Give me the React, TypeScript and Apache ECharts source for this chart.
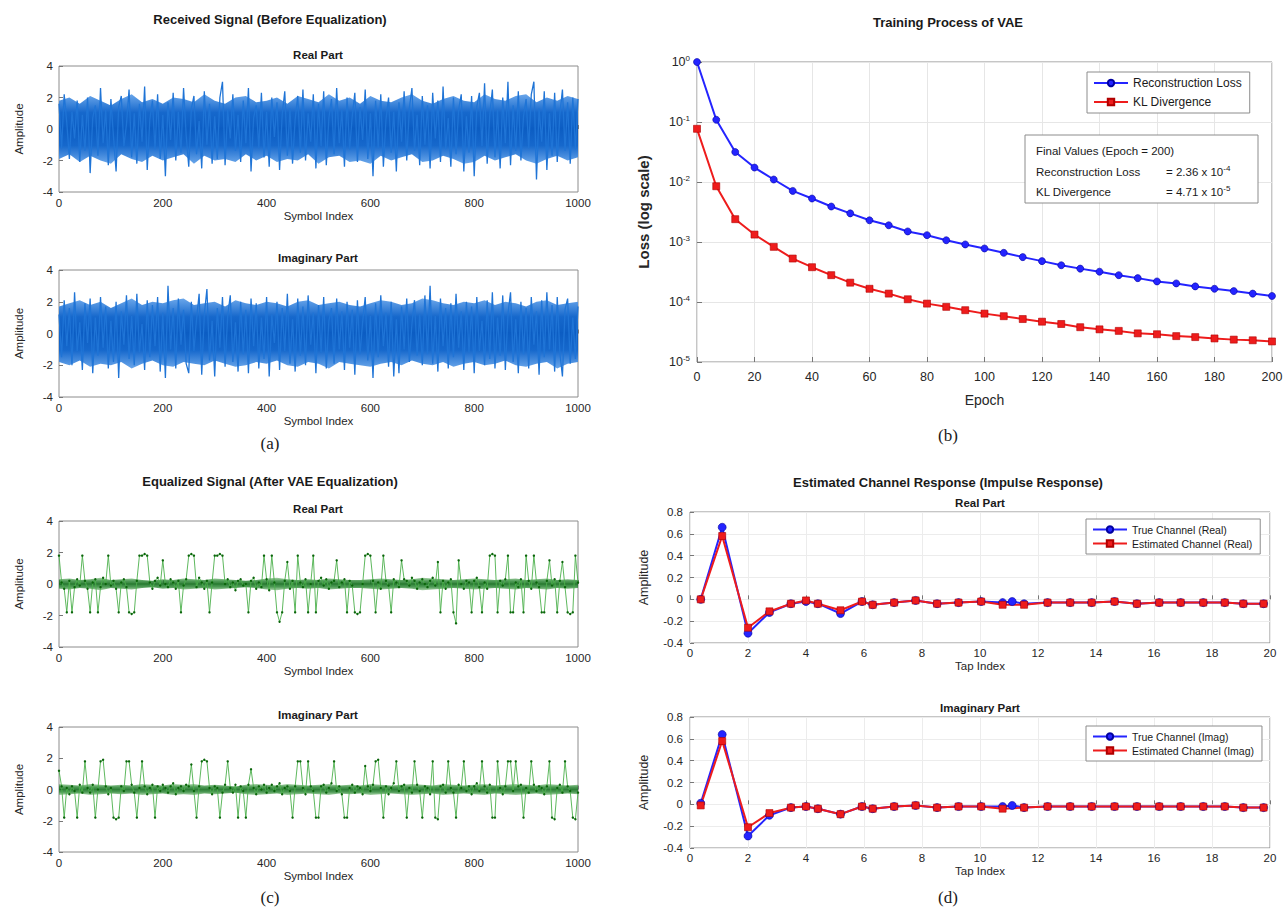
import React, { useEffect, useRef } from "react";
import * as echarts from "echarts";

// ---------- DATA ----------
// received signal, real part (sampled every 5 symbols, 0..1000)
const RX_REAL = [
  1.6, -1.2, 2.2, 0.4, -1.9, 1.1, -0.6, 1.8, -2.1, 0.9,
  -1.4, 2.0, -2.8, 0.7, 1.5, -1.7, 2.6, -0.9, 1.2, -2.3,
  1.9, -0.5, -2.7, 1.4, 2.1, -1.1, 0.3, 2.5, -1.8, 1.0,
  -2.2, 1.6, -0.8, 2.7, -2.6, 0.6, 1.8, -1.3, 2.2, -1.9,
  0.9, -3.0, 1.7, -0.7, 2.3, -2.0, 1.1, -1.5, 2.6, -0.4,
  -2.4, 1.3, 2.1, -1.6, 0.5, -2.5, 2.4, -1.0, 1.6, -2.2,
  0.8, -1.9, 2.0, 3.0, -2.3, 1.2, -0.6, 2.2, -1.4, 0.9,
  -2.1, 1.8, -0.9, 2.6, -2.7, 0.7, 1.5, -1.2, 2.3, -1.8,
  1.1, -2.4, 2.0, -0.5, 1.7, -2.6, 0.9, 2.4, -1.7, 1.3,
  -2.2, 0.6, 2.1, -1.5, 2.5, -2.0, 1.0, -0.8, 2.2, -2.5,
  1.6, -1.1, 2.4, -2.3, 0.7, 1.9, -1.6, 2.6, -0.9, 1.2,
  -2.4, 2.0, -1.3, 0.8, 2.3, -2.1, 1.4, -0.7, 2.5, -1.9,
  1.0, -3.0, 1.8, -1.2, 2.2, -2.4, 0.6, 2.0, -1.5, 1.1,
  -2.7, 1.7, -0.8, 2.4, -2.0, 1.3, 2.6, -1.4, 0.9, -2.3,
  2.1, -1.0, 1.5, -2.5, 2.3, -0.6, 1.8, -2.1, 2.7, -1.3,
  0.7, -2.4, 2.0, -1.6, 1.2, 2.2, -2.7, 0.8, -1.5, 2.1,
  -3.0, 1.4, 2.3, -1.1, 2.9, -2.2, 0.9, 2.5, -1.8, 1.2,
  -2.5, 2.0, -0.9, 3.0, -2.3, 1.5, -1.4, 2.4, -2.0, 0.8,
  1.9, -1.2, 2.2, 3.0, -3.2, 1.3, -0.8, 2.4, -2.6, 1.0,
  -1.7, 2.3, -2.1, 0.9, 2.5, -1.4, 1.7, -2.2, 2.0, -1.3,
  1.9,
];
// received signal, imaginary part
const RX_IMAG = [
  1.2, -1.5, 2.1, -0.8, 1.6, -2.0, 2.6, -1.1, 0.7, -2.3,
  1.9, -0.6, 2.2, -2.5, 1.0, -1.4, 2.3, -0.9, 1.7, -2.2,
  0.8, -1.8, 2.0, -2.8, 1.4, -0.7, 2.4, -1.6, 1.1, -2.0,
  2.5, -1.2, 0.6, -2.3, 2.1, -1.5, 1.8, -0.8, 2.3, -2.4,
  1.3, -2.8, 3.0, -1.0, 1.6, -2.2, 2.2, -0.7, 1.5, -1.9,
  -2.5, 2.0, -1.1, 0.9, 2.5, -2.6, 1.2, 2.8, -1.7, 0.8,
  -2.7, 1.6, -0.9, 2.3, -2.1, 1.1, 2.4, -1.8, 0.7, -2.4,
  2.0, -1.3, 1.5, -2.5, 2.2, -0.8, 1.9, -2.2, 1.0, -1.6,
  2.3, -2.7, 1.2, -0.6, 2.0, -2.3, 1.6, -1.1, 2.5, -1.9,
  0.9, -2.4, 2.2, -1.4, 1.7, -2.0, 2.4, -0.7, 1.3, -2.5,
  1.8, -1.2, 2.3, -2.2, 0.8, 1.6, -1.9, 2.2, -1.0, 1.4,
  -2.3, 2.0, -0.9, 1.5, -2.6, 2.1, -1.3, 0.7, 2.3, -1.7,
  1.1, -2.8, 1.9, -1.5, 2.4, -0.8, 1.3, -2.1, 2.0, -2.7,
  0.9, -2.5, 1.7, -1.0, 2.2, -1.8, 0.6, 2.1, -1.4, 1.2,
  -2.0, 2.4, -1.3, 3.0, -1.9, 1.1, -2.4, 2.2, -0.8, 1.6,
  -2.2, 1.9, -1.5, 2.5, -0.9, 1.4, -2.3, 2.0, -1.2, 1.7,
  -2.5, 2.3, -1.1, 0.8, -2.0, 2.1, -1.6, 2.6, -2.2, 1.0,
  -1.4, 2.4, -2.3, 1.2, 2.6, -1.8, 0.9, -2.5, 2.0, -1.3,
  1.6, -2.2, 2.3, -0.7, 1.4, -2.6, 2.1, -1.5, 2.6, -1.0,
  1.8, -2.4, 2.3, -1.2, -2.7, 1.5, 2.2, -1.9, 1.0, -1.6,
  1.7,
];
// dense body of the received signal (upper / lower envelope, every 20 symbols)
const RX_REAL_UP = [
  1.8, 2.0, 1.6, 2.1, 1.8, 1.5, 1.9, 2.2, 1.7, 1.9,
  1.6, 2.0, 1.9, 1.7, 2.2, 1.8, 1.6, 2.0, 2.1, 1.7,
  1.8, 2.0, 1.6, 2.1, 1.9, 1.7, 2.2, 1.8, 2.0, 1.6,
  2.1, 1.8, 1.7, 2.0, 2.2, 1.8, 1.6, 1.9, 2.1, 1.8,
  1.7, 2.2, 1.9, 1.8, 2.1, 2.2, 1.7, 2.0, 1.8, 2.1, 1.9,
];
const RX_REAL_LO = [
  -1.9, -1.6, -2.1, -1.7, -2.0, -2.2, -1.6, -1.9, -2.1, -1.7,
  -2.0, -1.8, -1.6, -2.2, -1.7, -2.0, -1.9, -2.1, -1.6, -2.0,
  -1.7, -2.1, -1.9, -2.0, -1.6, -2.2, -1.8, -1.7, -2.1, -2.0,
  -2.2, -1.7, -2.0, -1.8, -1.6, -2.1, -2.0, -1.7, -1.9, -2.2,
  -2.1, -1.7, -2.0, -1.8, -1.6, -2.0, -2.2, -1.9, -1.7, -2.0, -1.8,
];
const RX_IMAG_UP = [
  1.7, 1.9, 2.1, 1.8, 2.0, 1.6, 1.9, 2.2, 1.8, 2.0,
  1.9, 2.1, 2.2, 1.8, 1.9, 2.0, 1.7, 2.1, 1.9, 1.8,
  2.0, 1.9, 1.7, 2.0, 2.1, 1.8, 1.9, 2.0, 1.8, 1.7,
  1.9, 2.1, 2.0, 1.8, 1.9, 2.2, 2.1, 1.9, 1.8, 2.0,
  1.9, 2.1, 1.8, 2.0, 1.9, 1.7, 2.0, 2.1, 1.8, 1.9, 2.0,
];
const RX_IMAG_LO = [
  -1.8, -2.0, -1.7, -2.1, -1.9, -2.0, -1.8, -2.2, -1.9, -1.7,
  -2.0, -2.1, -1.8, -1.9, -2.0, -1.7, -1.9, -2.1, -2.0, -1.8,
  -1.9, -1.7, -2.0, -2.1, -1.8, -1.9, -2.2, -1.8, -1.9, -2.0,
  -2.1, -1.9, -1.8, -2.0, -1.7, -1.9, -2.0, -1.8, -2.1, -1.9,
  -1.8, -2.0, -1.9, -1.7, -2.0, -2.1, -1.9, -1.8, -2.2, -1.9, -1.8,
];
// equalized signal, real part
const EQ_REAL = [
  1.8, 0.1, -0.3, -1.8, 0.2, -1.8, -0.2, 0.3, -0.1, 1.8,
  0.2, -0.3, -1.8, 0.1, 0.3, -1.8, -0.2, 0.4, 0.0, 1.8,
  -0.1, 0.2, -0.3, -1.8, 0.1, 0.3, -0.2, -1.8, -1.9, -1.8,
  0.2, 1.8, 1.8, 1.9, 1.8, 0.1, -0.3, 0.2, 0.4, -0.1,
  1.5, 0.0, -0.2, 0.3, 0.1, -0.3, 0.2, -1.8, -0.1, 0.3,
  1.8, 1.9, 1.8, -0.2, 0.4, 0.1, -0.3, 0.2, -1.8, 0.1,
  1.8, 1.8, 1.9, 1.8, 0.0, 0.3, -0.2, 0.1, -0.4, 0.2,
  0.3, -0.1, 0.0, -1.8, 0.2, 0.4, -0.3, 0.1, -0.2, 1.8,
  0.3, -0.4, 1.8, 0.1, -1.8, -2.4, -1.8, 0.2, 1.4, -0.3,
  0.2, -1.8, 1.8, 0.1, -0.2, 0.3, -1.8, 0.0, 1.8, -1.8,
  0.2, 0.4, -0.1, 0.3, -0.3, 0.1, 0.2, 1.5, -0.2, 0.1,
  0.3, -1.8, 0.2, -0.1, -1.8, -1.9, -1.8, 0.0, 1.8, 1.9,
  1.8, 0.2, -1.8, 0.1, -0.3, 1.8, 0.2, -0.1, -1.8, 0.3,
  0.1, -0.2, 1.5, 0.3, 0.2, -0.1, 0.4, 0.2, -0.3, 0.1,
  0.3, 0.0, -0.2, 0.2, 0.4, -0.1, 1.4, -1.8, 0.2, -0.3,
  0.1, 0.3, -1.8, -2.5, 1.5, 0.0, -0.3, 0.2, 0.1, -1.8,
  0.2, 0.4, -0.2, -1.8, 0.1, -0.3, 1.8, 1.9, 1.8, -1.8,
  0.2, -0.1, 0.3, 1.8, -1.8, -1.8, 0.1, -0.2, 0.3, -1.8,
  1.8, 0.2, -0.3, 1.8, 0.1, -0.2, -1.8, -1.8, 0.2, 1.5,
  -0.1, 0.3, -1.8, 0.2, 1.4, -0.2, -1.8, -1.9, -1.8, 1.8,
  0.1,
];
// equalized signal, imaginary part
const EQ_IMAG = [
  1.2, 0.2, -1.8, 0.1, -0.3, 0.2, -0.1, -1.8, 0.3, -0.2,
  1.8, 0.1, -0.2, 0.3, -1.8, 0.0, 1.8, 1.9, 0.2, -0.3,
  0.1, -1.8, -1.9, -1.8, 0.2, -0.1, 1.8, 1.8, 0.3, -0.2,
  -1.8, 0.1, 1.8, 0.2, -0.3, 0.1, 0.3, -1.8, 0.2, -0.1,
  0.3, 0.1, -0.2, 0.2, 0.4, -0.3, 0.1, 0.2, -0.1, 0.3,
  0.2, 1.6, -0.1, -1.8, 0.2, 1.8, 1.9, 1.8, 0.1, -0.3,
  0.2, 0.1, -1.8, -0.2, 0.3, 1.8, 0.1, -0.2, 0.3, -1.8,
  0.2, -0.1, -1.8, 0.3, 1.3, 0.1, -0.3, 0.2, 0.0, 0.3,
  -0.2, 0.1, 0.3, -0.1, 0.2, 0.4, -0.3, 0.1, 0.2, -0.1,
  -1.8, 0.2, 1.8, 1.8, 0.1, -0.3, 1.8, 0.2, -0.1, -1.8,
  -1.8, 0.2, 0.3, -0.2, 0.1, 0.4, 1.8, -0.1, 0.2, -0.3,
  -1.8, -1.8, 0.1, 0.3, -0.2, 0.2, 0.1, -0.3, 1.5, 0.2,
  -0.1, 0.3, 1.8, 1.9, 0.1, -1.8, 0.2, -0.3, 0.1, 0.4,
  1.8, -0.1, 0.2, 0.3, -1.8, 0.1, -0.2, 1.8, 0.3, -0.1,
  -1.8, 0.2, 0.1, -0.3, 1.8, -1.8, -1.9, 0.2, 0.3, -0.2,
  1.8, 0.1, -0.2, -1.8, 0.3, 0.1, 1.8, -0.1, 0.2, -0.3,
  0.2, 0.4, -0.1, 1.8, 0.2, -0.2, 0.3, -1.8, -1.8, 1.8,
  0.1, -0.3, 0.2, 1.8, 1.8, -0.1, 1.8, 0.2, 0.3, -1.8,
  0.1, -0.2, 1.8, 0.3, -0.1, 0.2, 0.1, -0.3, 0.2, 1.8,
  -1.8, -1.9, 0.1, 0.3, -0.2, 1.8, 0.2, -0.1, -1.8, -1.9,
  -0.2,
];
// residual-noise half-width around zero of the equalized signal (every 20 symbols)
const EQ_REAL_NOISE = [
  0.3, 0.35, 0.25, 0.3, 0.4, 0.25, 0.3, 0.35, 0.25, 0.2,
  0.3, 0.25, 0.35, 0.3, 0.25, 0.35, 0.3, 0.25, 0.2, 0.25,
  0.35, 0.4, 0.3, 0.25, 0.3, 0.25, 0.35, 0.3, 0.25, 0.25,
  0.3, 0.35, 0.3, 0.25, 0.3, 0.4, 0.35, 0.3, 0.25, 0.3,
  0.35, 0.3, 0.25, 0.3, 0.35, 0.25, 0.3, 0.35, 0.25, 0.3, 0.25,
];
const EQ_IMAG_NOISE = [
  0.35, 0.3, 0.25, 0.35, 0.3, 0.25, 0.3, 0.25, 0.35, 0.3,
  0.25, 0.35, 0.3, 0.35, 0.25, 0.3, 0.25, 0.2, 0.3, 0.35,
  0.3, 0.25, 0.35, 0.3, 0.25, 0.3, 0.35, 0.25, 0.3, 0.25,
  0.35, 0.3, 0.25, 0.3, 0.35, 0.3, 0.25, 0.35, 0.3, 0.25,
  0.3, 0.35, 0.25, 0.3, 0.35, 0.3, 0.25, 0.35, 0.3, 0.25, 0.3,
];
const SYMBOL_STEP = 5;
const ENV_STEP = 20;

// VAE training
const EPOCHS = [0, 6.7, 13.3, 20, 26.7, 33.3, 40, 46.7, 53.3, 60, 66.7, 73.3, 80, 86.7, 93.3, 100,
  106.7, 113.3, 120, 126.7, 133.3, 140, 146.7, 153.3, 160, 166.7, 173.3, 180, 186.7, 193.3, 200];
const RECON_LOSS = [1.0, 0.109, 0.0316, 0.0174, 0.011, 0.0071, 0.0053, 0.0039, 0.003, 0.0023, 0.0019,
  0.0015, 0.0013, 0.00107, 0.00091, 0.00078, 0.00066, 0.00056, 0.00048, 0.00041, 0.00036, 0.00032,
  0.00028, 0.00025, 0.00022, 0.000204, 0.000182, 0.000166, 0.000152, 0.000138, 0.000126];
const KL_DIV = [0.077, 0.0085, 0.0024, 0.00133, 0.00083, 0.00053, 0.00038, 0.00028, 0.00021, 0.000166,
  0.000138, 0.000111, 0.000094, 0.000083, 0.000073, 0.000064, 0.000058, 0.000052, 0.000047, 0.000043,
  0.000038, 0.000035, 0.000033, 0.00003, 0.000029, 0.000027, 0.000026, 0.0000247, 0.0000236, 0.000023, 0.000022];

// Channel impulse response
const TAPS = [0.37, 1.11, 2.0, 2.74, 3.48, 4.0, 4.41, 5.19, 5.93, 6.3, 7.04, 7.78, 8.52, 9.26, 10.04,
  10.78, 11.11, 11.52, 12.33, 13.11, 13.85, 14.64, 15.41, 16.18, 16.92, 17.7, 18.44, 19.08, 19.78];
const TRUE_RE = [0.0, 0.66, -0.31, -0.12, -0.04, -0.02, -0.04, -0.13, -0.02, -0.05, -0.03, -0.01, -0.04,
  -0.03, -0.02, -0.03, -0.02, -0.04, -0.03, -0.03, -0.03, -0.02, -0.04, -0.03, -0.03, -0.03, -0.03, -0.04, -0.04];
const EST_RE = [0.0, 0.58, -0.26, -0.11, -0.04, -0.01, -0.04, -0.1, -0.02, -0.05, -0.03, -0.01, -0.04,
  -0.03, -0.02, -0.05, null, -0.05, -0.03, -0.03, -0.03, -0.02, -0.04, -0.03, -0.03, -0.03, -0.03, -0.04, -0.04];
const TRUE_IM = [0.01, 0.64, -0.29, -0.1, -0.03, -0.02, -0.04, -0.09, -0.02, -0.04, -0.02, -0.01, -0.03,
  -0.02, -0.02, -0.02, -0.01, -0.03, -0.02, -0.02, -0.02, -0.02, -0.02, -0.02, -0.02, -0.02, -0.02, -0.03, -0.03];
const EST_IM = [-0.01, 0.58, -0.21, -0.08, -0.03, -0.02, -0.04, -0.09, -0.02, -0.04, -0.02, -0.01, -0.03,
  -0.02, -0.02, -0.04, null, -0.03, -0.02, -0.02, -0.02, -0.02, -0.02, -0.02, -0.02, -0.02, -0.02, -0.03, -0.03];

// ---------- STYLE ----------
const SANS = '"Liberation Sans", Arial, sans-serif';
const SERIF = '"Liberation Serif", "Times New Roman", serif';
const TXT = "#262626";
const BOX = { show: true, borderColor: "#8c8c8c", borderWidth: 1, backgroundColor: "#fff" };
const RX_BLUE = "#1f74d6";
const EQ_LINE = "#4cb04c";
const EQ_DOT = "#0b650b";
const BLUE = "#2424ff";
const RED = "#ee1c1c";

const plainNum = (v: number) => String(v);

function sigX(gi: number) {
  return {
    type: "value", gridIndex: gi, min: 0, max: 1000, interval: 200,
    axisLine: { show: false },
    axisTick: { inside: true, length: 4, lineStyle: { color: "#777" } },
    axisLabel: { fontSize: 11.5, color: TXT, margin: 5, fontFamily: SANS, formatter: plainNum },
    splitLine: { show: false },
    name: "Symbol Index", nameLocation: "middle", nameGap: 17,
    nameTextStyle: { fontSize: 11.5, color: TXT, fontFamily: SANS },
  };
}
function sigY(gi: number) {
  return {
    type: "value", gridIndex: gi, min: -4, max: 4, interval: 2,
    axisLine: { show: false },
    axisTick: { inside: true, length: 4, lineStyle: { color: "#777" } },
    axisLabel: { fontSize: 11.5, color: TXT, margin: 6, fontFamily: SANS },
    splitLine: { show: false },
    name: "Amplitude", nameLocation: "middle", nameGap: 34,
    nameTextStyle: { fontSize: 11.5, color: TXT, fontFamily: SANS },
  };
}
function tapX(gi: number) {
  return {
    type: "value", gridIndex: gi, min: 0, max: 20, interval: 2,
    axisLine: { show: false },
    axisTick: { inside: true, length: 4, lineStyle: { color: "#777" } },
    axisLabel: { fontSize: 11.5, color: TXT, margin: 4, fontFamily: SANS },
    splitLine: { show: true, lineStyle: { color: "#ececec", width: 1 } },
    name: "Tap Index", nameLocation: "middle", nameGap: 17,
    nameTextStyle: { fontSize: 11.5, color: TXT, fontFamily: SANS },
  };
}
function tapY(gi: number) {
  return {
    type: "value", gridIndex: gi, min: -0.4, max: 0.8, interval: 0.2,
    axisLine: { show: false },
    axisTick: { inside: true, length: 4, lineStyle: { color: "#777" } },
    axisLabel: { fontSize: 11.5, color: TXT, margin: 7, fontFamily: SANS,
      formatter: (v: number) => String(Math.round(v * 10) / 10) },
    splitLine: { show: true, lineStyle: { color: "#ececec", width: 1 } },
    name: "Amplitude", nameLocation: "middle", nameGap: 40,
    nameTextStyle: { fontSize: 12.5, color: TXT, fontFamily: SANS },
  };
}

function txt(text: string, x: number, y: number, font: string, extra: any = {}) {
  return {
    type: "text", x, y, z: 100,
    style: {
      text, font, fill: extra.fill || "#1a1a1a",
      textAlign: extra.align || "center", align: extra.align || "center",
      textVerticalAlign: "middle", verticalAlign: "middle",
      rich: extra.rich,
    },
  };
}

function legendBox(left: number, top: number, names: string[], fontSize: number, itemGap: number) {
  return {
    left, top, orient: "vertical", data: names,
    borderColor: "#8c8c8c", borderWidth: 1, borderRadius: 0, backgroundColor: "#fff",
    padding: [5, 8, 5, 6], itemGap, itemWidth: 34, itemHeight: 8,
    textStyle: { fontSize, color: "#1a1a1a", fontFamily: SANS },
  };
}

function grad(top: string, mid: string, bottom: string) {
  return new echarts.graphic.LinearGradient(0, 0, 0, 1, [
    { offset: 0, color: top },
    { offset: 0.5, color: mid },
    { offset: 1, color: bottom },
  ]);
}

export default function App() {
  const ref = useRef<HTMLDivElement>(null);
  useEffect(() => {
    document.body.style.margin = "0";
    const chart = echarts.init(ref.current!, null, { renderer: "svg" });
    const sigData = (arr: number[]) => arr.map((v, i) => [i * SYMBOL_STEP, v]);
    const envData = (arr: number[], sign = 1) => arr.map((v, i) => [i * ENV_STEP, sign * v]);
    const pair = (xs: number[], ys: (number | null)[]) => xs.map((x, i) => [x, ys[i]]);
    const sup = { s: { fontSize: 8, padding: [0, 0, 8, 0], fontFamily: SANS, fill: "#1a1a1a" } };

    const band = (data: number[][], gi: number, color: any, origin: number) => ({
      type: "line", xAxisIndex: gi, yAxisIndex: gi, data,
      showSymbol: false, symbol: "none", smooth: false,
      lineStyle: { width: 0, opacity: 0 },
      areaStyle: { color, opacity: 1, origin },
      silent: true,
    });
    const rxUp = grad("#6aa6ea", "#1668cc", "#0b5cc2");
    const rxLo = grad("#0b5cc2", "#1668cc", "#6aa6ea");
    const eqUp = grad("rgba(90,170,90,0.55)", "rgba(35,130,45,0.8)", "rgba(20,110,30,0.9)");
    const eqLo = grad("rgba(20,110,30,0.9)", "rgba(35,130,45,0.8)", "rgba(90,170,90,0.55)");

    const rxSeries = (arr: number[], gi: number) => ({
      type: "line", xAxisIndex: gi, yAxisIndex: gi, data: sigData(arr),
      showSymbol: false, symbol: "none", lineStyle: { color: RX_BLUE, width: 1.3 },
      itemStyle: { color: RX_BLUE }, silent: true,
    });
    const eqSeries = (arr: number[], gi: number) => ({
      type: "line", xAxisIndex: gi, yAxisIndex: gi, data: sigData(arr),
      showSymbol: true, symbol: "circle", symbolSize: 2.4,
      lineStyle: { color: EQ_LINE, width: 0.9 },
      itemStyle: { color: EQ_DOT }, silent: true,
    });
    const chSeries = (name: string, ys: (number | null)[], gi: number, est: boolean) => ({
      name, type: "line", xAxisIndex: gi, yAxisIndex: gi, data: pair(TAPS, ys),
      connectNulls: true, showSymbol: true,
      symbol: est ? "rect" : "circle", symbolSize: est ? 7 : 8,
      lineStyle: { color: est ? RED : BLUE, width: 2 },
      itemStyle: { color: est ? RED : BLUE, borderColor: est ? "#b00000" : "#0000a0", borderWidth: 0.6 },
    });

    const option: any = {
      animation: false,
      backgroundColor: "#fff",
      grid: [
        { left: 59, top: 66, width: 519, height: 126, ...BOX },
        { left: 59, top: 270, width: 519, height: 127, ...BOX },
        { left: 59, top: 521, width: 519, height: 126, ...BOX },
        { left: 59, top: 727, width: 519, height: 125, ...BOX },
        { left: 697, top: 62, width: 575, height: 300, ...BOX },
        { left: 690, top: 512, width: 580, height: 131, ...BOX },
        { left: 690, top: 717, width: 580, height: 131, ...BOX },
      ],
      xAxis: [
        sigX(0), sigX(1), sigX(2), sigX(3),
        {
          type: "value", gridIndex: 4, min: 0, max: 200, interval: 20,
          axisLine: { show: false },
          axisTick: { inside: true, length: 5, lineStyle: { color: "#777" } },
          axisLabel: { fontSize: 12.5, color: TXT, margin: 8, fontFamily: SANS },
          splitLine: { show: true, lineStyle: { color: "#e6e6e6", width: 1 } },
          name: "Epoch", nameLocation: "middle", nameGap: 31,
          nameTextStyle: { fontSize: 14, color: TXT, fontFamily: SANS },
        },
        tapX(5), tapX(6),
      ],
      yAxis: [
        sigY(0), sigY(1), sigY(2), sigY(3),
        {
          type: "log", logBase: 10, gridIndex: 4, min: 0.00001, max: 1,
          axisLine: { show: false },
          axisTick: { inside: true, length: 5, lineStyle: { color: "#777" } },
          axisLabel: {
            fontSize: 12.5, color: TXT, margin: 7, fontFamily: SANS,
            formatter: (v: number) => "10{s|" + Math.round(Math.log10(v)) + "}",
            rich: { s: { fontSize: 8, padding: [0, 0, 8, 0], color: TXT, fontFamily: SANS } },
          },
          splitLine: { show: true, lineStyle: { color: "#e6e6e6", width: 1 } },
          name: "Loss (log scale)", nameLocation: "middle", nameGap: 46,
          nameTextStyle: { fontSize: 15, fontWeight: "bold", color: TXT, fontFamily: SANS },
        },
        tapY(5), tapY(6),
      ],
      legend: [
        legendBox(1087, 72, ["Reconstruction Loss", "KL Divergence"], 12, 7),
        legendBox(1086, 519, ["True Channel (Real)", "Estimated Channel (Real)"], 10.5, 3),
        legendBox(1086, 726, ["True Channel (Imag)", "Estimated Channel (Imag)"], 10.5, 3),
      ],
      series: [
        band(envData(RX_REAL_UP), 0, rxUp, -0.1),
        band(envData(RX_REAL_LO, 1), 0, rxLo, 0.1),
        rxSeries(RX_REAL, 0),
        band(envData(RX_IMAG_UP), 1, rxUp, -0.1),
        band(envData(RX_IMAG_LO, 1), 1, rxLo, 0.1),
        rxSeries(RX_IMAG, 1),
        band(envData(EQ_REAL_NOISE), 2, eqUp, -0.02),
        band(envData(EQ_REAL_NOISE, -1), 2, eqLo, 0.02),
        eqSeries(EQ_REAL, 2),
        band(envData(EQ_IMAG_NOISE), 3, eqUp, -0.02),
        band(envData(EQ_IMAG_NOISE, -1), 3, eqLo, 0.02),
        eqSeries(EQ_IMAG, 3),
        {
          name: "Reconstruction Loss", type: "line", xAxisIndex: 4, yAxisIndex: 4,
          data: pair(EPOCHS, RECON_LOSS), symbol: "circle", symbolSize: 7,
          lineStyle: { color: BLUE, width: 2 },
          itemStyle: { color: BLUE, borderColor: "#0000a0", borderWidth: 0.6 },
        },
        {
          name: "KL Divergence", type: "line", xAxisIndex: 4, yAxisIndex: 4,
          data: pair(EPOCHS, KL_DIV), symbol: "rect", symbolSize: 7,
          lineStyle: { color: RED, width: 2 },
          itemStyle: { color: RED, borderColor: "#b00000", borderWidth: 0.6 },
        },
        chSeries("True Channel (Real)", TRUE_RE, 5, false),
        chSeries("Estimated Channel (Real)", EST_RE, 5, true),
        chSeries("True Channel (Imag)", TRUE_IM, 6, false),
        chSeries("Estimated Channel (Imag)", EST_IM, 6, true),
      ],
      graphic: [
        txt("Received Signal (Before Equalization)", 270, 19, `bold 13px ${SANS}`),
        txt("Real Part", 318, 55, `bold 11.5px ${SANS}`),
        txt("Imaginary Part", 318, 258, `bold 11.5px ${SANS}`),
        txt("(a)", 270, 443, `17px ${SERIF}`),
        txt("Equalized Signal (After VAE Equalization)", 270, 481, `bold 13px ${SANS}`),
        txt("Real Part", 318, 509, `bold 11.5px ${SANS}`),
        txt("Imaginary Part", 318, 715, `bold 11.5px ${SANS}`),
        txt("(c)", 270, 897, `17px ${SERIF}`),
        txt("Training Process of VAE", 948, 22, `bold 13px ${SANS}`),
        txt("(b)", 948, 435, `17px ${SERIF}`),
        txt("Estimated Channel Response (Impulse Response)", 948, 482, `bold 13px ${SANS}`),
        txt("Real Part", 980, 503, `bold 11.5px ${SANS}`),
        txt("Imaginary Part", 980, 708, `bold 11.5px ${SANS}`),
        txt("(d)", 948, 897, `17px ${SERIF}`),
        {
          type: "rect", z: 100,
          shape: { x: 1025, y: 135, width: 233, height: 68 },
          style: { fill: "#fff", stroke: "#8c8c8c", lineWidth: 1 },
        },
        txt("Final Values (Epoch = 200)", 1036, 151, `11.5px ${SANS}`, { align: "left" }),
        txt("Reconstruction Loss", 1036, 172, `11.5px ${SANS}`, { align: "left" }),
        txt("= 2.36 x 10{s|-4}", 1166, 172, `11.5px ${SANS}`, { align: "left", rich: sup }),
        txt("KL Divergence", 1036, 192, `11.5px ${SANS}`, { align: "left" }),
        txt("= 4.71 x 10{s|-5}", 1166, 192, `11.5px ${SANS}`, { align: "left", rich: sup }),
      ],
    };
    chart.setOption(option);
    return () => chart.dispose();
  }, []);
  return <div ref={ref} style={{ width: 1288, height: 915 }} />;
}
